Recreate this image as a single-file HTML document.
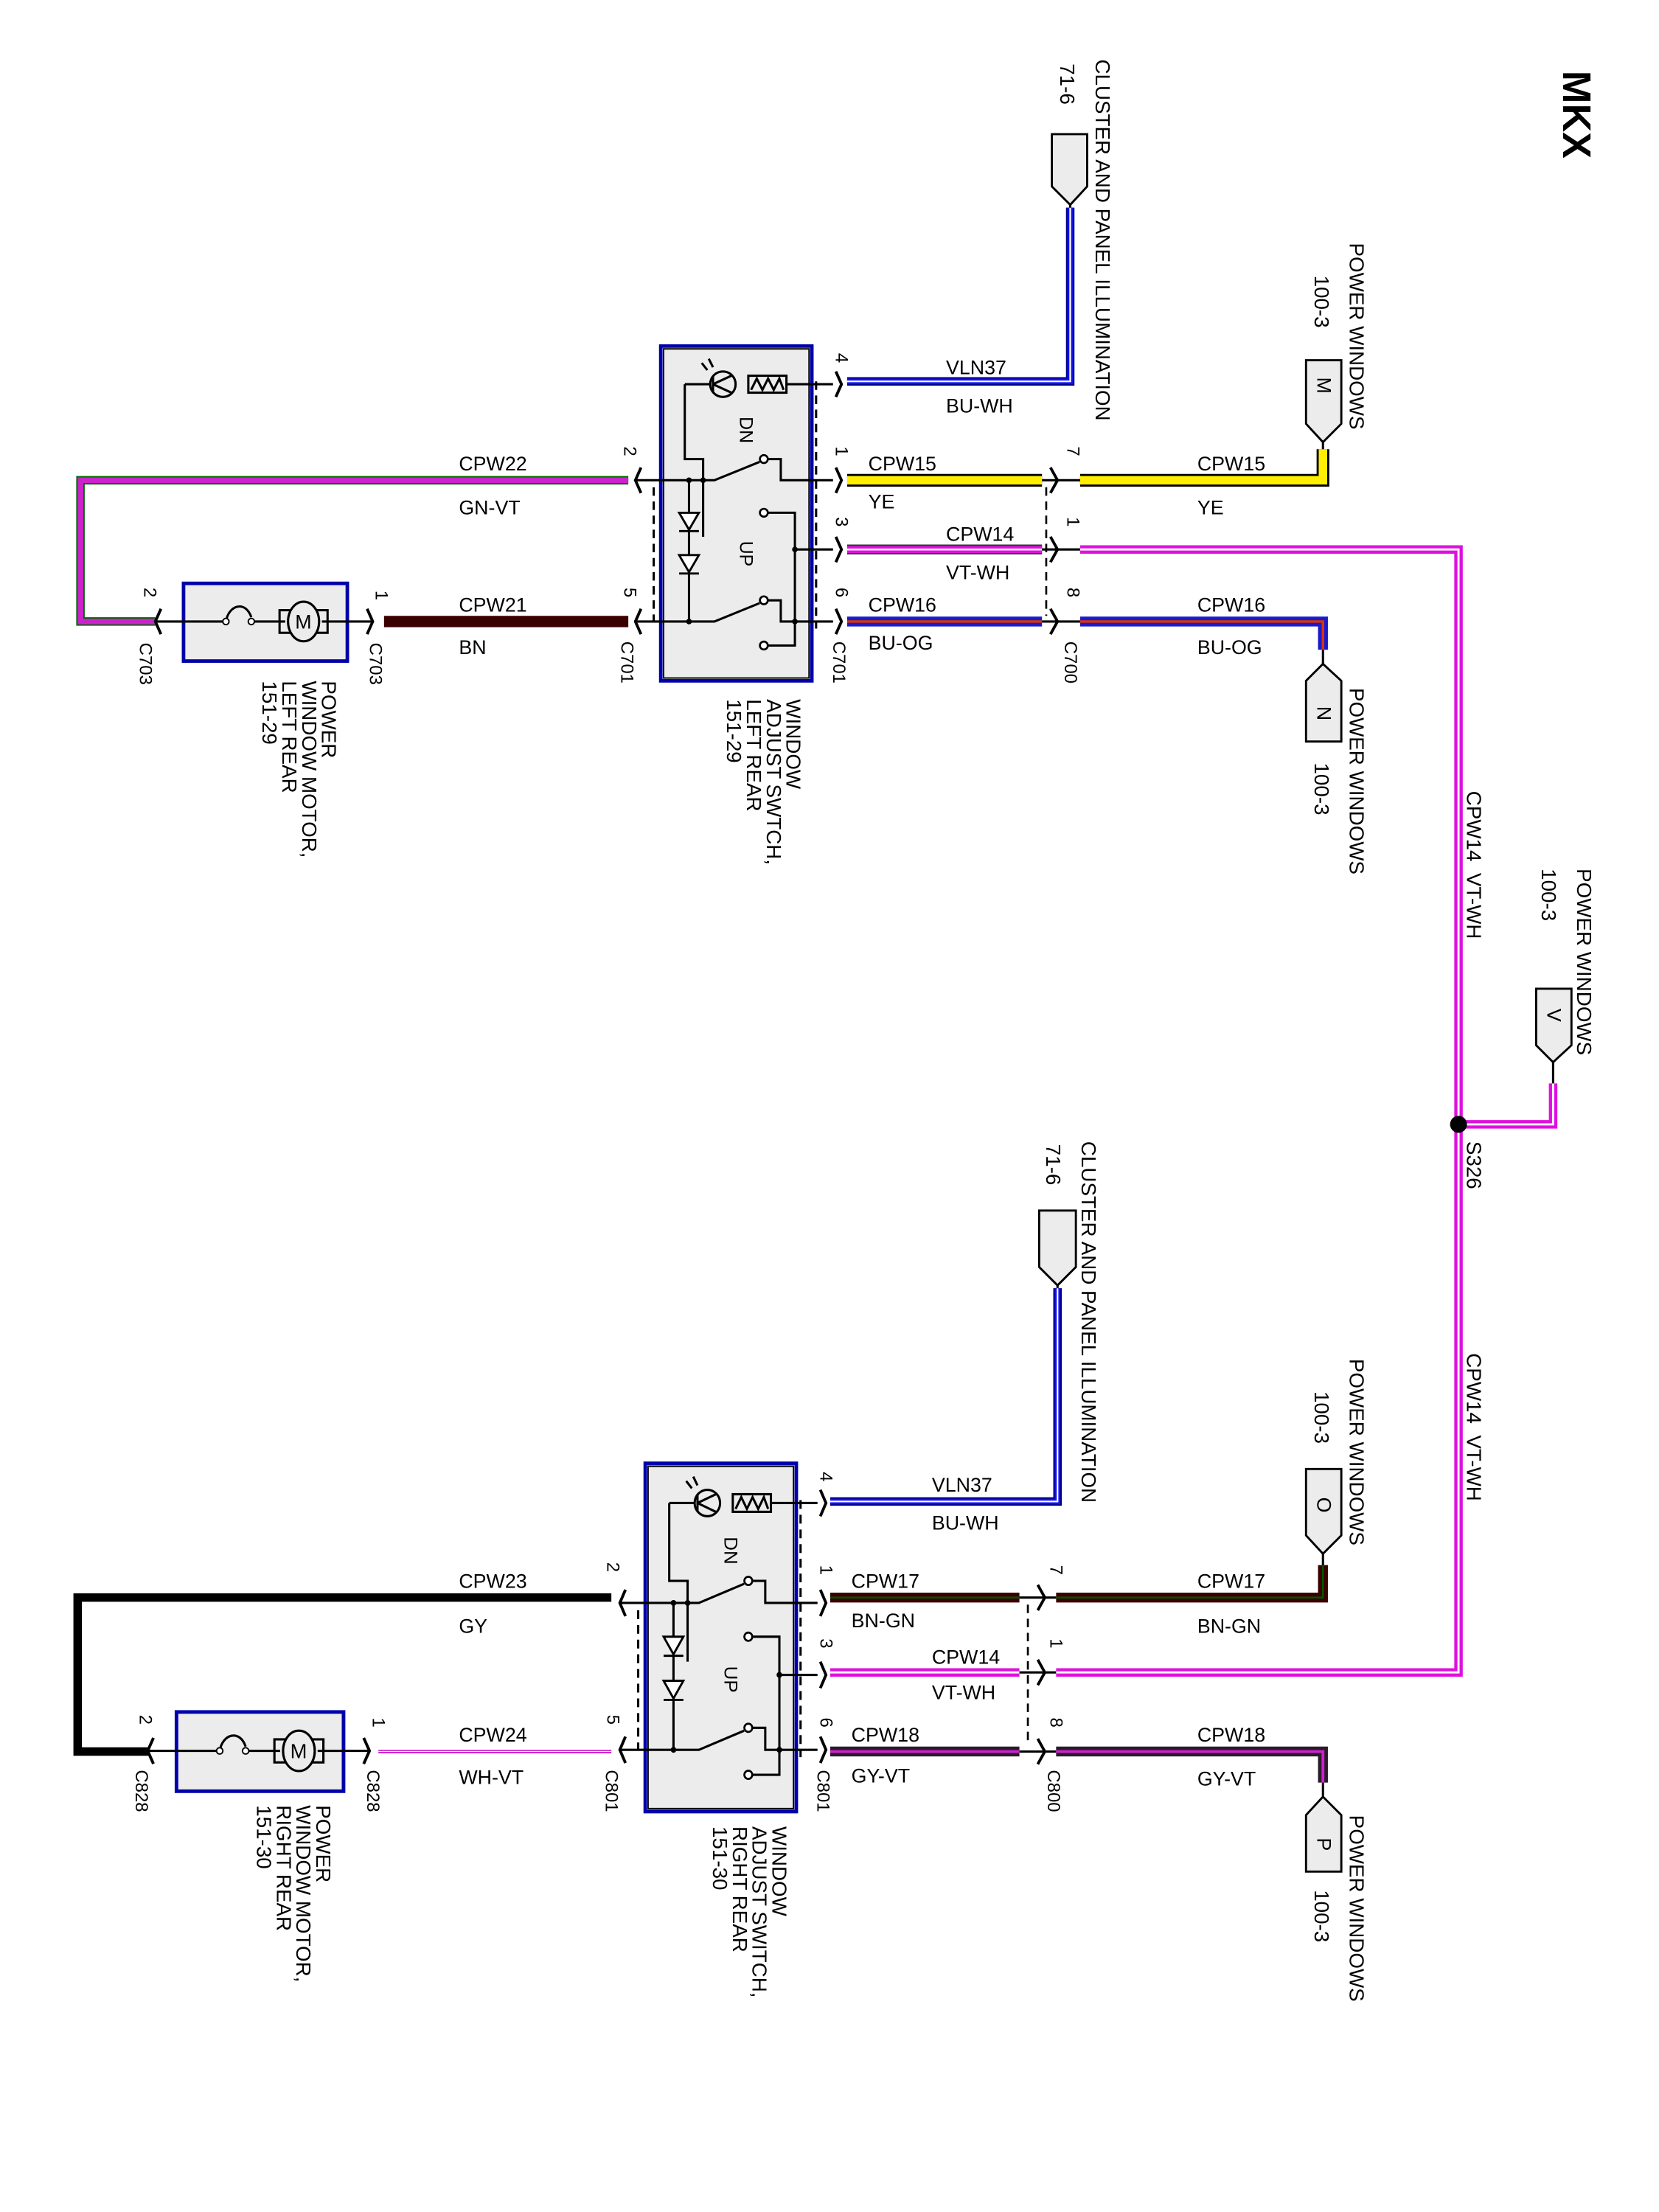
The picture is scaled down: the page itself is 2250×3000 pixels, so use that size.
<!DOCTYPE html>
<html><head><meta charset="utf-8"><style>
html,body{margin:0;padding:0;background:#fff;}
svg{display:block;}
text{font-family:"Liberation Sans",Arial,sans-serif;fill:#000;}
</style></head><body>
<svg width="2250" height="3000" viewBox="0 0 1175 1566" preserveAspectRatio="none" xmlns="http://www.w3.org/2000/svg">
<defs>
<g id="sw">
  <rect x="0" y="0" width="107" height="237" fill="#ececec" stroke="#0000aa" stroke-width="2.5"/>
  <rect x="2" y="2" width="103" height="233" fill="none" stroke="#000" stroke-width="1"/>
  <g stroke="#000" stroke-width="1.6" fill="none">
    <circle cx="44" cy="27" r="9"/>
    <path d="M37,21 L37,33 M37,27 L50,21 M37,27 L50,33"/>
    <path d="M33,17 L29,12 M37,15 L34,9"/>
    <rect x="62" y="21" width="27" height="12"/>
    <path d="M64,31 L68,23 L72,31 L76,23 L80,31 L84,23 L87,31"/>
    <path d="M89,27 L122,27 M17,27 L35,27 M17,27 L17,80 L30,80 L30,135"/>
    <path d="M-18,95 L38,95 L70,82 M76,80 L85,80 L85,95 L122,95"/>
    <path d="M20,95 L20,195"/>
    <path d="M-18,195 L38,195 L70,182 M76,180 L85,180 L85,195 L122,195"/>
    <path d="M76,118 L95,118 L95,212 L76,212 M95,144 L122,144"/>
    <path d="M-5,100 L-5,195 M110,25 L110,200" stroke-dasharray="6,4"/>
  </g>
  <circle cx="73" cy="80" r="2.8" fill="#fff" stroke="#000" stroke-width="1.4"/>
  <circle cx="73" cy="180" r="2.8" fill="#fff" stroke="#000" stroke-width="1.4"/>
  <circle cx="73" cy="118" r="2.8" fill="#fff" stroke="#000" stroke-width="1.4"/>
  <circle cx="73" cy="212" r="2.8" fill="#fff" stroke="#000" stroke-width="1.4"/>
  <path d="M13,118 L27,118 L20,130 Z M13,131 L27,131" fill="#fff" stroke="#000" stroke-width="1.5"/>
  <path d="M13,148 L27,148 L20,160 Z M13,161 L27,161" fill="#fff" stroke="#000" stroke-width="1.5"/>
  <circle cx="30" cy="95" r="2" fill="#000"/><circle cx="20" cy="95" r="2" fill="#000"/>
  <circle cx="20" cy="195" r="2" fill="#000"/><circle cx="95" cy="195" r="2" fill="#000"/><circle cx="95" cy="144" r="2" fill="#000"/>
  <text transform="translate(56,50) rotate(90)" font-size="13">DN</text>
  <text transform="translate(56,138) rotate(90)" font-size="13">UP</text>
  <path d="M124,18 L128,27 L124,36 M124,86 L128,95 L124,104 M124,135 L128,144 L124,153 M124,186 L128,195 L124,204" stroke="#000" stroke-width="2" fill="none"/>
  <path d="M-14,86 L-18,95 L-14,104 M-14,186 L-18,195 L-14,204" stroke="#000" stroke-width="2" fill="none"/>
</g>
<g id="mot">
  <rect x="0" y="0" width="116" height="55" fill="#ececec" stroke="#0000aa" stroke-width="2.5"/>
  <g stroke="#000" stroke-width="1.6" fill="none">
    <path d="M-20,27 L30,27 M48,27 L72,27 M98,27 L134,27"/>
    <path d="M30,27 C32,15 44,12 48,24"/>
    <rect x="68" y="19" width="34" height="16"/>
    <ellipse cx="85" cy="27" rx="11" ry="14" fill="#ececec"/>
    <path d="M-16,18 L-20,27 L-16,36 M130,18 L134,27 L130,36" stroke-width="2"/>
  </g>
  <circle cx="30" cy="27" r="2.2" fill="#fff" stroke="#000"/>
  <circle cx="48" cy="27" r="2.2" fill="#fff" stroke="#000"/>
  <text x="79" y="32" font-size="14">M</text>
</g>
</defs>

<text transform="translate(1107,50) rotate(90)" font-size="28" font-weight="bold">MKX</text>

<!-- ===== UPPER ===== -->
<g fill="none" stroke-linejoin="miter">
  <polyline points="600,270 758,270 758,147" stroke="#000080" stroke-width="6"/>
  <polyline points="600,270 758,270 758,147" stroke="#1010ee" stroke-width="4"/>
  <polyline points="600,270 758,270 758,147" stroke="#fff" stroke-width="1.2"/>

  <line x1="600" y1="340" x2="738" y2="340" stroke="#000" stroke-width="9"/>
  <line x1="600" y1="340" x2="738" y2="340" stroke="#ffee00" stroke-width="6"/>
  <polyline points="765,340 937,340 937,318" stroke="#000" stroke-width="9"/>
  <polyline points="765,340 937,340 937,318" stroke="#ffee00" stroke-width="6"/>

  <line x1="600" y1="389" x2="738" y2="389" stroke="#333" stroke-width="7"/>
  <line x1="600" y1="389" x2="738" y2="389" stroke="#dd11dd" stroke-width="5"/>
  <line x1="600" y1="389" x2="738" y2="389" stroke="#fff" stroke-width="1.3"/>
  <polyline points="765,389 1033,389 1033,1184 748,1184" stroke="#dd11dd" stroke-width="6"/>
  <polyline points="765,389 1033,389 1033,1184 748,1184" stroke="#fff" stroke-width="1.5"/>

  <line x1="600" y1="440" x2="738" y2="440" stroke="#1a1acc" stroke-width="7"/>
  <line x1="600" y1="440" x2="738" y2="440" stroke="#dd3300" stroke-width="1.8"/>
  <polyline points="765,440 937,440 937,460" stroke="#1a1acc" stroke-width="7"/>
  <polyline points="765,440 937,440 937,460" stroke="#dd3300" stroke-width="1.8"/>

  <polyline points="445,340 57,340 57,440 110,440" stroke="#006600" stroke-width="6"/>
  <polyline points="445,340 57,340 57,440 110,440" stroke="#cc22cc" stroke-width="4"/>
  <line x1="272" y1="440" x2="445" y2="440" stroke="#3a0000" stroke-width="8"/>

  <polyline points="1033,796 1100,796 1100,767" stroke="#dd11dd" stroke-width="6"/>
  <polyline points="1033,796 1100,796 1100,767" stroke="#fff" stroke-width="1.5"/>
</g>
<path d="M738,340 L765,340 M738,389 L765,389 M738,440 L765,440 M1100,767 L1100,752 M937,318 L937,312 M937,460 L937,470 M758,147 L758,140" stroke="#000" stroke-width="1.6"/>
<path d="M744,331 L749,340 L744,349 M744,380 L749,389 L744,398 M744,431 L749,440 L744,449" stroke="#000" stroke-width="2" fill="none"/>
<line x1="741" y1="345" x2="741" y2="436" stroke="#000" stroke-width="1.4" stroke-dasharray="6,4"/>
<circle cx="1033" cy="796" r="6" fill="#000"/>

<use href="#sw" x="468" y="245"/>
<use href="#mot" x="130" y="413"/>

<path d="M745,95 L770,95 L770,132 L758,145 L745,132 Z" fill="#ececec" stroke="#000" stroke-width="1.5"/>
<path d="M925,255 L950,255 L950,300 L937,313 L925,300 Z" fill="#ececec" stroke="#000" stroke-width="1.5"/>
<path d="M925,525 L950,525 L950,482 L937,470 L925,482 Z" fill="#ececec" stroke="#000" stroke-width="1.5"/>
<path d="M1088,700 L1113,700 L1113,740 L1100,752 L1088,740 Z" fill="#ececec" stroke="#000" stroke-width="1.5"/>
<text transform="translate(933,267) rotate(90)" font-size="14">M</text>
<text transform="translate(933,500) rotate(90)" font-size="14">N</text>
<text transform="translate(1096,714) rotate(90)" font-size="14">V</text>

<g font-size="14">
<text x="670" y="265">VLN37</text><text x="670" y="292">BU-WH</text>
<text x="615" y="333">CPW15</text><text x="615" y="360">YE</text>
<text x="848" y="333">CPW15</text><text x="848" y="364">YE</text>
<text x="670" y="383">CPW14</text><text x="670" y="410">VT-WH</text>
<text x="615" y="433">CPW16</text><text x="615" y="460">BU-OG</text>
<text x="848" y="433">CPW16</text><text x="848" y="463">BU-OG</text>
<text x="325" y="333">CPW22</text><text x="325" y="364">GN-VT</text>
<text x="325" y="433">CPW21</text><text x="325" y="463">BN</text>
</g>
<g font-size="12.5">
<text transform="translate(592,250) rotate(90)">4</text>
<text transform="translate(592,316) rotate(90)">1</text>
<text transform="translate(592,366) rotate(90)">3</text>
<text transform="translate(592,416) rotate(90)">6</text>
<text transform="translate(756,316) rotate(90)">7</text>
<text transform="translate(756,366) rotate(90)">1</text>
<text transform="translate(756,416) rotate(90)">8</text>
<text transform="translate(442,316) rotate(90)">2</text>
<text transform="translate(442,416) rotate(90)">5</text>
<text transform="translate(266,418) rotate(90)">1</text>
<text transform="translate(102,416) rotate(90)">2</text>
<text transform="translate(440,454) rotate(90)">C701</text>
<text transform="translate(590,454) rotate(90)">C701</text>
<text transform="translate(754,454) rotate(90)">C700</text>
<text transform="translate(262,455) rotate(90)">C703</text>
<text transform="translate(99,455) rotate(90)">C703</text>
</g>
<g font-size="14.5">
<text transform="translate(557,495) rotate(90)"><tspan x="0" dy="0">WINDOW</tspan><tspan x="0" dy="14">ADJUST SWTCH,</tspan><tspan x="0" dy="14">LEFT REAR</tspan><tspan x="0" dy="14">151-29</tspan></text>
<text transform="translate(228,482) rotate(90)"><tspan x="0" dy="0">POWER</tspan><tspan x="0" dy="14">WINDOW MOTOR,</tspan><tspan x="0" dy="14">LEFT REAR</tspan><tspan x="0" dy="14">151-29</tspan></text>
<text transform="translate(776,42) rotate(90)">CLUSTER AND PANEL ILLUMINATION</text>
<text transform="translate(751,45) rotate(90)">71-6</text>
<text transform="translate(956,172) rotate(90)">POWER WINDOWS</text>
<text transform="translate(931,195) rotate(90)">100-3</text>
<text transform="translate(956,487) rotate(90)">POWER WINDOWS</text>
<text transform="translate(931,540) rotate(90)">100-3</text>
<text transform="translate(1117,615) rotate(90)">POWER WINDOWS</text>
<text transform="translate(1092,615) rotate(90)">100-3</text>
<text transform="translate(1039,560) rotate(90)">CPW14&#160;&#160;VT-WH</text>
<text transform="translate(1039,808) rotate(90)">S326</text>
<text transform="translate(1039,958) rotate(90)">CPW14&#160;&#160;VT-WH</text>
</g>

<!-- ===== LOWER ===== -->
<g fill="none">
  <polyline points="588,1063 749,1063 749,912" stroke="#000080" stroke-width="6"/>
  <polyline points="588,1063 749,1063 749,912" stroke="#1010ee" stroke-width="4"/>
  <polyline points="588,1063 749,1063 749,912" stroke="#fff" stroke-width="1.2"/>

  <line x1="588" y1="1131" x2="722" y2="1131" stroke="#3a0000" stroke-width="7"/>
  <line x1="588" y1="1131" x2="722" y2="1131" stroke="#005500" stroke-width="1.3"/>
  <polyline points="748,1131 937,1131 937,1108" stroke="#3a0000" stroke-width="7"/>
  <polyline points="748,1131 937,1131 937,1108" stroke="#005500" stroke-width="1.3"/>

  <line x1="588" y1="1184" x2="722" y2="1184" stroke="#dd11dd" stroke-width="6"/>
  <line x1="588" y1="1184" x2="722" y2="1184" stroke="#fff" stroke-width="1.5"/>

  <line x1="588" y1="1240" x2="722" y2="1240" stroke="#2a1a2a" stroke-width="7"/>
  <line x1="588" y1="1240" x2="722" y2="1240" stroke="#cc22cc" stroke-width="2"/>
  <polyline points="748,1240 937,1240 937,1262" stroke="#2a1a2a" stroke-width="7"/>
  <polyline points="748,1240 937,1240 937,1262" stroke="#cc22cc" stroke-width="2"/>

  <polyline points="433,1131 55,1131 55,1240 105,1240" stroke="#000" stroke-width="6"/>
  <line x1="268" y1="1240" x2="433" y2="1240" stroke="#cc22cc" stroke-width="2.5"/>
  <line x1="268" y1="1240" x2="433" y2="1240" stroke="#fff" stroke-width="0.6"/>
</g>
<path d="M722,1131 L748,1131 M722,1184 L748,1184 M722,1240 L748,1240 M749,912 L749,906 M937,1108 L937,1100 M937,1262 L937,1272" stroke="#000" stroke-width="1.6"/>
<path d="M735,1122 L740,1131 L735,1140 M735,1175 L740,1184 L735,1193 M735,1231 L740,1240 L735,1249" stroke="#000" stroke-width="2" fill="none"/>
<line x1="728" y1="1136" x2="728" y2="1236" stroke="#000" stroke-width="1.4" stroke-dasharray="6,4"/>

<use href="#sw" transform="translate(457,1036) scale(1,1.04)"/>
<use href="#mot" transform="translate(125,1212) scale(1.02,1.02)"/>

<path d="M736,857 L762,857 L762,897 L749,910 L736,897 Z" fill="#ececec" stroke="#000" stroke-width="1.5"/>
<path d="M925,1040 L950,1040 L950,1087 L937,1100 L925,1087 Z" fill="#ececec" stroke="#000" stroke-width="1.5"/>
<path d="M925,1325 L950,1325 L950,1285 L937,1272 L925,1285 Z" fill="#ececec" stroke="#000" stroke-width="1.5"/>
<text transform="translate(933,1060) rotate(90)" font-size="14">O</text>
<text transform="translate(933,1301) rotate(90)" font-size="14">P</text>

<g font-size="14">
<text x="660" y="1056">VLN37</text><text x="660" y="1083">BU-WH</text>
<text x="603" y="1124">CPW17</text><text x="603" y="1152">BN-GN</text>
<text x="848" y="1124">CPW17</text><text x="848" y="1156">BN-GN</text>
<text x="660" y="1178">CPW14</text><text x="660" y="1203">VT-WH</text>
<text x="603" y="1233">CPW18</text><text x="603" y="1262">GY-VT</text>
<text x="848" y="1233">CPW18</text><text x="848" y="1264">GY-VT</text>
<text x="325" y="1124">CPW23</text><text x="325" y="1156">GY</text>
<text x="325" y="1233">CPW24</text><text x="325" y="1263">WH-VT</text>
</g>
<g font-size="12.5">
<text transform="translate(581,1042) rotate(90)">4</text>
<text transform="translate(581,1108) rotate(90)">1</text>
<text transform="translate(581,1160) rotate(90)">3</text>
<text transform="translate(581,1216) rotate(90)">6</text>
<text transform="translate(744,1108) rotate(90)">7</text>
<text transform="translate(744,1160) rotate(90)">1</text>
<text transform="translate(744,1216) rotate(90)">8</text>
<text transform="translate(430,1106) rotate(90)">2</text>
<text transform="translate(430,1214) rotate(90)">5</text>
<text transform="translate(264,1216) rotate(90)">1</text>
<text transform="translate(99,1214) rotate(90)">2</text>
<text transform="translate(429,1253) rotate(90)">C801</text>
<text transform="translate(579,1253) rotate(90)">C801</text>
<text transform="translate(742,1253) rotate(90)">C800</text>
<text transform="translate(260,1253) rotate(90)">C828</text>
<text transform="translate(96,1253) rotate(90)">C828</text>
</g>
<g font-size="14.5">
<text transform="translate(547,1293) rotate(90)"><tspan x="0" dy="0">WINDOW</tspan><tspan x="0" dy="14">ADJUST SWITCH,</tspan><tspan x="0" dy="14">RIGHT REAR</tspan><tspan x="0" dy="14">151-30</tspan></text>
<text transform="translate(224,1278) rotate(90)"><tspan x="0" dy="0">POWER</tspan><tspan x="0" dy="14">WINDOW MOTOR,</tspan><tspan x="0" dy="14">RIGHT REAR</tspan><tspan x="0" dy="14">151-30</tspan></text>
<text transform="translate(766,808) rotate(90)">CLUSTER AND PANEL ILLUMINATION</text>
<text transform="translate(741,810) rotate(90)">71-6</text>
<text transform="translate(956,962) rotate(90)">POWER WINDOWS</text>
<text transform="translate(931,985) rotate(90)">100-3</text>
<text transform="translate(956,1285) rotate(90)">POWER WINDOWS</text>
<text transform="translate(931,1338) rotate(90)">100-3</text>
</g>
</svg>
</body></html>
